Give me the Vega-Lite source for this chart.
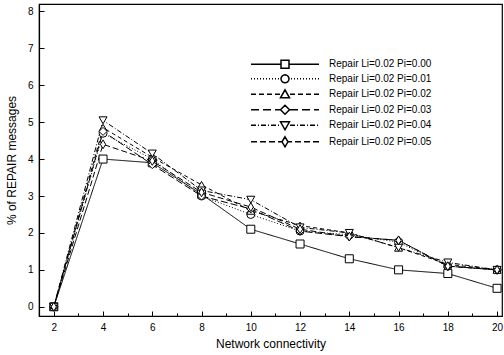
{
  "$schema": "https://vega.github.io/schema/vega-lite/v6.json",
  "width": 463,
  "height": 312,
  "autosize": {"type": "none"},
  "padding": {"left": 39, "top": 4, "right": 2, "bottom": 39},
  "background": "white",
  "config": {
    "font": "Liberation Sans",
    "view": {"stroke": "black", "strokeWidth": 1.2},
    "axis": {
      "domainColor": "black",
      "domainWidth": 1.2,
      "tickColor": "black",
      "labelColor": "black",
      "titleColor": "black",
      "labelFontSize": 10,
      "titleFontSize": 12,
      "titleFontWeight": "normal",
      "grid": false
    }
  },
  "data": {
    "values": [
      {"x": 2, "y": 0, "s": "Repair Li=0.02 Pi=0.00"},
      {"x": 4, "y": 4.0, "s": "Repair Li=0.02 Pi=0.00"},
      {"x": 6, "y": 3.9, "s": "Repair Li=0.02 Pi=0.00"},
      {"x": 8, "y": 3.05, "s": "Repair Li=0.02 Pi=0.00"},
      {"x": 10, "y": 2.1, "s": "Repair Li=0.02 Pi=0.00"},
      {"x": 12, "y": 1.7, "s": "Repair Li=0.02 Pi=0.00"},
      {"x": 14, "y": 1.3, "s": "Repair Li=0.02 Pi=0.00"},
      {"x": 16, "y": 1.0, "s": "Repair Li=0.02 Pi=0.00"},
      {"x": 18, "y": 0.9, "s": "Repair Li=0.02 Pi=0.00"},
      {"x": 20, "y": 0.5, "s": "Repair Li=0.02 Pi=0.00"},
      {"x": 2, "y": 0, "s": "Repair Li=0.02 Pi=0.01"},
      {"x": 4, "y": 4.7, "s": "Repair Li=0.02 Pi=0.01"},
      {"x": 6, "y": 4.0, "s": "Repair Li=0.02 Pi=0.01"},
      {"x": 8, "y": 3.0, "s": "Repair Li=0.02 Pi=0.01"},
      {"x": 10, "y": 2.5, "s": "Repair Li=0.02 Pi=0.01"},
      {"x": 12, "y": 2.05, "s": "Repair Li=0.02 Pi=0.01"},
      {"x": 14, "y": 1.95, "s": "Repair Li=0.02 Pi=0.01"},
      {"x": 16, "y": 1.75, "s": "Repair Li=0.02 Pi=0.01"},
      {"x": 18, "y": 1.1, "s": "Repair Li=0.02 Pi=0.01"},
      {"x": 20, "y": 1.0, "s": "Repair Li=0.02 Pi=0.01"},
      {"x": 2, "y": 0, "s": "Repair Li=0.02 Pi=0.02"},
      {"x": 4, "y": 4.85, "s": "Repair Li=0.02 Pi=0.02"},
      {"x": 6, "y": 4.05, "s": "Repair Li=0.02 Pi=0.02"},
      {"x": 8, "y": 3.3, "s": "Repair Li=0.02 Pi=0.02"},
      {"x": 10, "y": 2.6, "s": "Repair Li=0.02 Pi=0.02"},
      {"x": 12, "y": 2.2, "s": "Repair Li=0.02 Pi=0.02"},
      {"x": 14, "y": 2.0, "s": "Repair Li=0.02 Pi=0.02"},
      {"x": 16, "y": 1.6, "s": "Repair Li=0.02 Pi=0.02"},
      {"x": 18, "y": 1.15, "s": "Repair Li=0.02 Pi=0.02"},
      {"x": 20, "y": 1.0, "s": "Repair Li=0.02 Pi=0.02"},
      {"x": 2, "y": 0, "s": "Repair Li=0.02 Pi=0.03"},
      {"x": 4, "y": 4.75, "s": "Repair Li=0.02 Pi=0.03"},
      {"x": 6, "y": 3.85, "s": "Repair Li=0.02 Pi=0.03"},
      {"x": 8, "y": 3.0, "s": "Repair Li=0.02 Pi=0.03"},
      {"x": 10, "y": 2.65, "s": "Repair Li=0.02 Pi=0.03"},
      {"x": 12, "y": 2.05, "s": "Repair Li=0.02 Pi=0.03"},
      {"x": 14, "y": 1.9, "s": "Repair Li=0.02 Pi=0.03"},
      {"x": 16, "y": 1.8, "s": "Repair Li=0.02 Pi=0.03"},
      {"x": 18, "y": 1.1, "s": "Repair Li=0.02 Pi=0.03"},
      {"x": 20, "y": 1.0, "s": "Repair Li=0.02 Pi=0.03"},
      {"x": 2, "y": 0, "s": "Repair Li=0.02 Pi=0.04"},
      {"x": 4, "y": 5.05, "s": "Repair Li=0.02 Pi=0.04"},
      {"x": 6, "y": 4.15, "s": "Repair Li=0.02 Pi=0.04"},
      {"x": 8, "y": 3.15, "s": "Repair Li=0.02 Pi=0.04"},
      {"x": 10, "y": 2.9, "s": "Repair Li=0.02 Pi=0.04"},
      {"x": 12, "y": 2.15, "s": "Repair Li=0.02 Pi=0.04"},
      {"x": 14, "y": 2.0, "s": "Repair Li=0.02 Pi=0.04"},
      {"x": 16, "y": 1.6, "s": "Repair Li=0.02 Pi=0.04"},
      {"x": 18, "y": 1.2, "s": "Repair Li=0.02 Pi=0.04"},
      {"x": 20, "y": 1.0, "s": "Repair Li=0.02 Pi=0.04"},
      {"x": 2, "y": 0, "s": "Repair Li=0.02 Pi=0.05"},
      {"x": 4, "y": 4.4, "s": "Repair Li=0.02 Pi=0.05"},
      {"x": 6, "y": 3.95, "s": "Repair Li=0.02 Pi=0.05"},
      {"x": 8, "y": 3.1, "s": "Repair Li=0.02 Pi=0.05"},
      {"x": 10, "y": 2.7, "s": "Repair Li=0.02 Pi=0.05"},
      {"x": 12, "y": 2.1, "s": "Repair Li=0.02 Pi=0.05"},
      {"x": 14, "y": 1.9, "s": "Repair Li=0.02 Pi=0.05"},
      {"x": 16, "y": 1.8, "s": "Repair Li=0.02 Pi=0.05"},
      {"x": 18, "y": 1.1, "s": "Repair Li=0.02 Pi=0.05"},
      {"x": 20, "y": 1.0, "s": "Repair Li=0.02 Pi=0.05"}
    ]
  },
  "encoding": {
    "x": {
      "field": "x",
      "type": "quantitative",
      "scale": {"domain": [1.4, 20.2], "nice": false, "zero": false},
      "axis": {
        "title": "Network connectivity",
        "values": [2, 2.5, 3, 3.5, 4, 4.5, 5, 5.5, 6, 6.5, 7, 7.5, 8, 8.5, 9, 9.5, 10, 10.5, 11, 11.5, 12, 12.5, 13, 13.5, 14, 14.5, 15, 15.5, 16, 16.5, 17, 17.5, 18, 18.5, 19, 19.5, 20],
        "format": "d",
        "labelExpr": "datum.value % 2 === 0 ? datum.label : ''",
        "tickSize": {"condition": {"test": "datum.value % 2 !== 0", "value": -3}, "value": -5},
        "labelPadding": 11,
        "titlePadding": 6,
        "labelFlush": false
      }
    },
    "y": {
      "field": "y",
      "type": "quantitative",
      "scale": {"domain": [-0.25, 8.2], "nice": false, "zero": false},
      "axis": {
        "title": "% of REPAIR messages",
        "values": [0, 0.5, 1, 1.5, 2, 2.5, 3, 3.5, 4, 4.5, 5, 5.5, 6, 6.5, 7, 7.5, 8],
        "format": "d",
        "labelExpr": "datum.value % 1 === 0 ? datum.label : ''",
        "tickSize": {"condition": {"test": "datum.value % 1 !== 0", "value": -3}, "value": -5},
        "labelPadding": 11,
        "titlePadding": 9,
        "labelFlush": false
      }
    }
  },
  "resolve": {"scale": {"shape": "independent"}, "legend": {"shape": "independent"}},
  "layer": [
    {
      "mark": {"type": "line", "color": "black", "strokeWidth": 1},
      "encoding": {
        "strokeDash": {
          "field": "s",
          "type": "nominal",
          "scale": {
            "domain": ["Repair Li=0.02 Pi=0.00", "Repair Li=0.02 Pi=0.01", "Repair Li=0.02 Pi=0.02", "Repair Li=0.02 Pi=0.03", "Repair Li=0.02 Pi=0.04", "Repair Li=0.02 Pi=0.05"],
            "range": [[1, 0], [1, 2], [4, 3], [7, 3], [5, 2, 1, 2], [6, 3]]
          },
          "legend": null
        }
      }
    },
    {
      "mark": {"type": "point", "fill": "white", "stroke": "black", "strokeWidth": 1, "opacity": 1, "filled": false, "size": 64},
      "encoding": {
        "shape": {
          "field": "s",
          "type": "nominal",
          "scale": {
            "domain": ["Repair Li=0.02 Pi=0.00", "Repair Li=0.02 Pi=0.01", "Repair Li=0.02 Pi=0.02", "Repair Li=0.02 Pi=0.03", "Repair Li=0.02 Pi=0.04", "Repair Li=0.02 Pi=0.05"],
            "range": ["square", "circle", "triangle-up", "diamond", "triangle-down", "M0,-1.1L0.65,0L0,1.1L-0.65,0Z"]
          },
          "legend": null
        }
      }
    },
    {
      "transform": [{"filter": "datum.y < -100"}],
      "mark": {"type": "point", "fill": "white", "stroke": "black", "strokeWidth": 1, "opacity": 1, "filled": false, "size": 100},
      "encoding": {
        "shape": {
          "field": "s",
          "type": "nominal",
          "scale": {
            "domain": ["Repair Li=0.02 Pi=0.00", "Repair Li=0.02 Pi=0.01", "Repair Li=0.02 Pi=0.02", "Repair Li=0.02 Pi=0.03", "Repair Li=0.02 Pi=0.04", "Repair Li=0.02 Pi=0.05"],
            "range": [
              "M-6.8,0L-0.8,0M0.8,0L6.8,0M-0.8,-0.8L0.8,-0.8L0.8,0.8L-0.8,0.8Z",
              "M-6.8,0L-6.6,0M-6.2,0L-6,0M-5.6,0L-5.4,0M-5,0L-4.8,0M-4.4,0L-4.2,0M-3.8,0L-3.6,0M-3.2,0L-3,0M-2.6,0L-2.4,0M-2,0L-1.8,0M-1.4,0L-1.2,0M1.2,0L1.4,0M1.8,0L2,0M2.4,0L2.6,0M3,0L3.2,0M3.6,0L3.8,0M4.2,0L4.4,0M4.8,0L5,0M5.4,0L5.6,0M6,0L6.2,0M6.6,0L6.8,0M0.8,0L0.74,0.306L0.566,0.566L0.306,0.74L0,0.8L-0.306,0.74L-0.566,0.566L-0.74,0.306L-0.8,0L-0.74,-0.306L-0.566,-0.566L-0.306,-0.74L0,-0.8L0.306,-0.74L0.566,-0.566L0.74,-0.306Z",
              "M-6.8,0L-5.8,0M-5.2,0L-4.2,0M-3.6,0L-2.6,0M-2,0L-1,0M1,0L2,0M2.6,0L3.6,0M4.2,0L5.2,0M5.8,0L6.8,0M0,-0.9L0.9,0.7L-0.9,0.7Z",
              "M-6.8,0L-5.2,0M-4.4,0L-2.8,0M-2,0L-0.9,0M0.9,0L2.6,0M3.4,0L5,0M5.8,0L6.8,0M0,-0.9L0.9,0L0,0.9L-0.9,0Z",
              "M-6.8,0L-5.8,0M-5.4,0L-5.2,0M-4.8,0L-3.8,0M-3.4,0L-3.2,0M-2.8,0L-1.8,0M-1.4,0L-1.2,0M1,0L2,0M2.4,0L2.6,0M3,0L4,0M4.4,0L4.6,0M5,0L6,0M6.4,0L6.6,0M-0.9,-0.7L0.9,-0.7L0,0.9Z",
              "M-6.8,0L-5.6,0M-5,0L-3.8,0M-3.2,0L-2,0M-1.4,0L-0.6,0M0.6,0L1.4,0M2,0L3.2,0M3.8,0L5,0M5.6,0L6.8,0M0,-1L0.6,0L0,1L-0.6,0Z"
            ]
          },
          "legend": {
            "title": null,
            "orient": "none",
            "legendX": 240,
            "legendY": 54.3,
            "labelFontSize": 10,
            "labelColor": "black",
            "symbolSize": 100,
            "labelOffset": 38,
            "rowPadding": 0.5,
            "padding": 0
          }
        }
      }
    }
  ]
}
